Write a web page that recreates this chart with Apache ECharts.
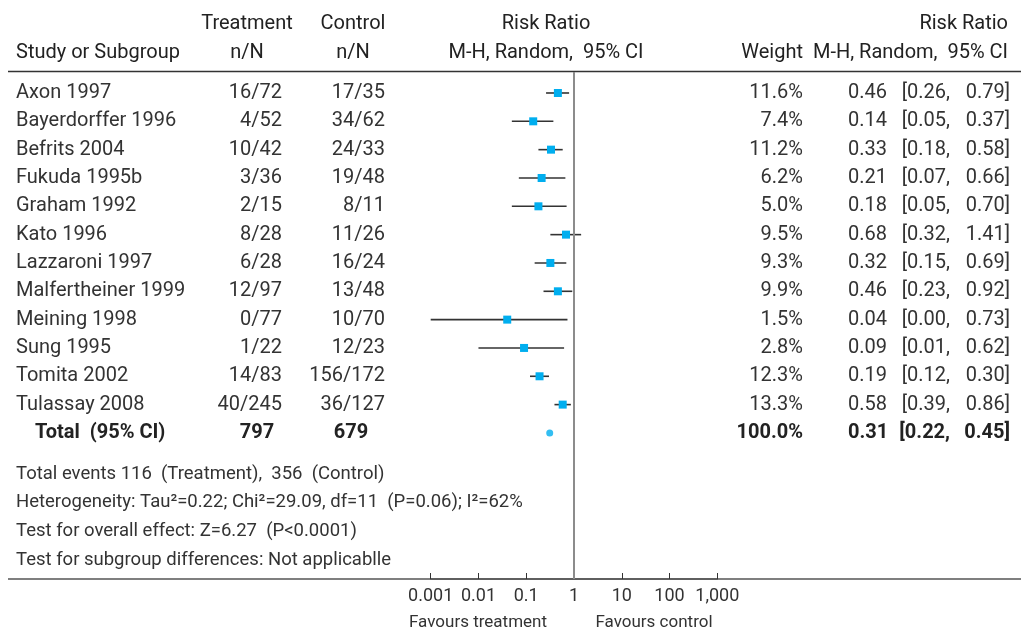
<!DOCTYPE html>
<html>
<head>
<meta charset="utf-8">
<script src="https://cdn.jsdelivr.net/npm/echarts@6/dist/echarts.min.js"></script>
<style>html,body{margin:0;padding:0;background:#fff}#c{width:1021px;height:633px}</style>
</head>
<body>
<div id="c"></div>
<script>
// ---- data ----
const studies = ['Axon 1997','Bayerdorffer 1996','Befrits 2004','Fukuda 1995b','Graham 1992','Kato 1996','Lazzaroni 1997','Malfertheiner 1999','Meining 1998','Sung 1995','Tomita 2002','Tulassay 2008'];
const treatment = ['16/72','4/52','10/42','3/36','2/15','8/28','6/28','12/97','0/77','1/22','14/83','40/245'];
const control = ['17/35','34/62','24/33','19/48','8/11','11/26','16/24','13/48','10/70','12/23','156/172','36/127'];
const weights = [11.6,7.4,11.2,6.2,5.0,9.5,9.3,9.9,1.5,2.8,12.3,13.3];
const rr = [0.46,0.14,0.33,0.21,0.18,0.68,0.32,0.46,0.04,0.09,0.19,0.58];
const ciLow = [0.26,0.05,0.18,0.07,0.05,0.32,0.15,0.23,0.001,0.01,0.12,0.39];
const ciHigh = [0.79,0.37,0.58,0.66,0.70,1.41,0.69,0.92,0.73,0.62,0.30,0.86];
const total = {label:'Total  (95% CI)', treatment:'797', control:'679', weight:100.0, rr:0.31, lo:0.22, hi:0.45};
const tickLabels = ['0.001','0.01','0.1','1','10','100','1,000'];
const footnotes = [
  'Total events 116  (Treatment),  356  (Control)',
  'Heterogeneity: Tau\u00B2=0.22; Chi\u00B2=29.09, df=11  (P=0.06); I\u00B2=62%',
  'Test for overall effect: Z=6.27  (P<0.0001)',
  'Test for subgroup differences: Not applicablle'
];
const favours = ['Favours treatment','Favours control'];

// ---- layout / style ----
const FONT = 'Roboto';
const TXT = '#333';
const BLUE = '#00AEEF';
const fmt2 = v => v.toFixed(2);

const rows = studies.map((s,i)=>({i, name:s, t:treatment[i], c:control[i], w:weights[i].toFixed(1)+'%', est:fmt2(rr[i]), lo:'[' + fmt2(ciLow[i]) + ',', hi:fmt2(ciHigh[i]) + ']', bold:false}));
rows.push({i:studies.length, name:total.label, t:total.treatment, c:total.control, w:total.weight.toFixed(1)+'%', est:fmt2(total.rr), lo:'[' + fmt2(total.lo) + ',', hi:fmt2(total.hi) + ']', bold:true});

function txt(x, y, s, align, opts) {
  opts = opts || {};
  return {type:'text', x:x, y:y, silent:true, style:{text:s, x:0, y:0, align:align||'left', verticalAlign:'middle',
    font:(opts.bold?'bold ':'') + (opts.size||20) + 'px ' + FONT, fill:opts.color||TXT}};
}

const chart = echarts.init(document.getElementById('c'), null, {renderer:'canvas'});
const option = {
  animation:false,
  backgroundColor:'#fff',
  grid:{left:430.7, right:303.7, top:72, bottom:54, containLabel:false},
  xAxis:{type:'log', logBase:10, min:0.001, max:1000, splitNumber:6,
    axisLine:{show:true, onZero:false, lineStyle:{color:'#555', width:1.5}}, splitLine:{show:false},
    axisTick:{show:true, inside:true, length:6, lineStyle:{color:'#333', width:1}},
    axisLabel:{margin:8, fontFamily:FONT, fontSize:18, color:TXT,
      formatter:v=>tickLabels[Math.round(Math.log10(v))+3]}},
  yAxis:{type:'value', inverse:true, min:-0.741, max:17.156, show:false},
  graphic:[
    {type:'line', silent:true, shape:{x1:8,y1:71.5,x2:1021,y2:71.5}, style:{stroke:'#333', lineWidth:1.5}},
    {type:'line', silent:true, z:-1, shape:{x1:8,y1:579,x2:1021,y2:579}, style:{stroke:'#555', lineWidth:1.5}},
    txt(16,53,'Study or Subgroup','left',{color:'#222'}),
    txt(247,24,'Treatment','center',{color:'#222'}),
    txt(247,53,'n/N','center',{color:'#222'}),
    txt(353,24,'Control','center',{color:'#222'}),
    txt(353,53,'n/N','center',{color:'#222'}),
    txt(546,24,'Risk Ratio','center',{color:'#222'}),
    txt(546,53,'M-H, Random,  95% CI','center',{color:'#222'}),
    txt(803,53,'Weight','right',{color:'#222'}),
    txt(1008,24,'Risk Ratio','right',{color:'#222'}),
    txt(1008,53,'M-H, Random,  95% CI','right',{color:'#222'}),
    ...footnotes.map((f,k)=>txt(16,474+k*28.7,f,'left',{size:18.5})),
    txt(478,623,favours[0],'center',{size:17}),
    txt(654,623,favours[1],'center',{size:17})
  ],
  series:[
    {
      type:'custom', name:'table', clip:false, silent:true,
      data: rows.map(r=>[1, r.i]),
      encode:{x:0, y:1},
      renderItem:(params, api)=>{
        const r = rows[params.dataIndex];
        const y = api.coord([1, api.value(1)])[1];
        const o = {bold:r.bold, color:r.bold?'#222':TXT};
        return {type:'group', children:[
          txt(r.bold?35:16, y, r.name, 'left', o),
          r.bold ? txt(257, y, r.t, 'center', o) : txt(282, y, r.t, 'right', o),
          r.bold ? txt(351, y, r.c, 'center', o) : txt(385, y, r.c, 'right', o),
          txt(803, y, r.w, 'right', o),
          txt(848, y, r.est, 'left', o),
          txt(950, y, r.lo, 'right', o),
          txt(1010, y, r.hi, 'right', o)
        ]};
      }
    },
    {
      type:'custom', name:'forest', silent:true,
      data: studies.map((s,i)=>[i, rr[i], ciLow[i], ciHigh[i]]),
      encode:{x:[1,2,3], y:0},
      renderItem:(params, api)=>{
        const yv = api.value(0);
        const p = api.coord([api.value(1), yv]);
        const a = api.coord([api.value(2), yv]);
        const b = api.coord([api.value(3), yv]);
        return {type:'group', children:[
          {type:'line', shape:{x1:a[0], y1:p[1], x2:b[0], y2:p[1]}, style:{stroke:'#333', lineWidth:1.6}},
          {type:'rect', shape:{x:p[0]-4, y:p[1]-4, width:8, height:8}, style:{fill:BLUE}}
        ]};
      },
      markLine:{silent:true, symbol:'none', label:{show:false},
        lineStyle:{color:'#8c8c8c', width:2, type:'solid'},
        data:[{xAxis:1}]},
      z:3
    },
    {
      type:'scatter', name:'total', silent:true, symbol:'circle', symbolSize:7,
      itemStyle:{color:BLUE},
      data:[[total.rr, studies.length]], z:4
    }
  ]
};
chart.setOption(option);
</script>
</body>
</html>
